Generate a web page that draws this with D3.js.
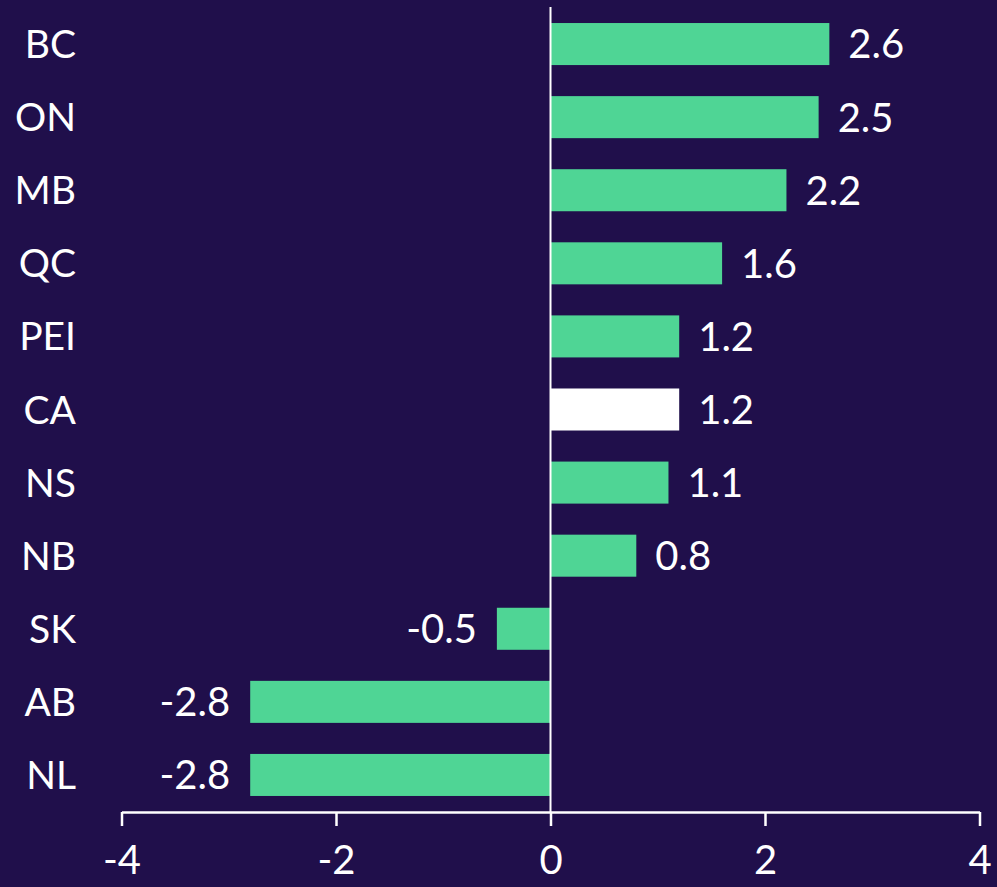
<!DOCTYPE html>
<html>
<head>
<meta charset="utf-8">
<script src="https://cdn.jsdelivr.net/npm/d3@7"></script>
<style>
  html, body { margin: 0; padding: 0; background: #200f4b; }
  svg { display: block; }
</style>
</head>
<body>
<script>
var provinces = ['BC', 'ON', 'MB', 'QC', 'PEI', 'CA', 'NS', 'NB', 'SK', 'AB', 'NL'];
var values = [2.6, 2.5, 2.2, 1.6, 1.2, 1.2, 1.1, 0.8, -0.5, -2.8, -2.8];
var tickValues = [-4, -2, 0, 2, 4];

var width = 997;
var height = 887;
var green = '#4fd595';
var font = 'Lato, "Open Sans", sans-serif';

var svg = d3.select('body')
    .append('svg')
    .attr('width', width)
    .attr('height', height);

svg.append('rect')
    .attr('width', width)
    .attr('height', height)
    .attr('fill', '#200f4b');

var x = d3.scaleLinear()
    .domain([-4, 4])
    .range([121.5, 979.5]);

var y = d3.scaleBand()
    .domain(provinces)
    .range([7.5, 811.5])
    .paddingInner(0.425)
    .paddingOuter(0.2125);

// bars
svg.selectAll('rect.bar')
    .data(provinces)
    .enter()
    .append('rect')
    .attr('class', 'bar')
    .attr('x', function (d, i) { return x(Math.min(0, values[i])); })
    .attr('y', function (d) { return y(d); })
    .attr('width', function (d, i) { return Math.abs(x(values[i]) - x(0)); })
    .attr('height', y.bandwidth())
    .attr('fill', function (d) { return d === 'CA' ? '#ffffff' : green; });

// value labels
svg.selectAll('text.val')
    .data(provinces)
    .enter()
    .append('text')
    .attr('class', 'val')
    .attr('x', function (d, i) { return values[i] >= 0 ? x(values[i]) + 19 : x(values[i]) - 20; })
    .attr('y', function (d) { return y(d) + y.bandwidth() / 2; })
    .attr('dy', '0.36em')
    .attr('text-anchor', function (d, i) { return values[i] >= 0 ? 'start' : 'end'; })
    .attr('fill', '#ffffff')
    .attr('font-family', font)
    .attr('font-size', 40)
    .text(function (d, i) { return values[i].toFixed(1); });

// category labels
svg.selectAll('text.cat')
    .data(provinces)
    .enter()
    .append('text')
    .attr('class', 'cat')
    .attr('x', 76)
    .attr('y', function (d) { return y(d) + y.bandwidth() / 2; })
    .attr('dy', '0.36em')
    .attr('text-anchor', 'end')
    .attr('fill', '#ffffff')
    .attr('font-family', font)
    .attr('font-size', 39)
    .text(function (d) { return d; });

// zero line
svg.append('line')
    .attr('x1', x(0))
    .attr('x2', x(0))
    .attr('y1', 7)
    .attr('y2', 812)
    .attr('stroke', '#ffffff')
    .attr('stroke-width', 2);

// bottom axis
var axis = svg.append('g')
    .attr('transform', 'translate(0,812)')
    .call(d3.axisBottom(x)
        .tickValues(tickValues)
        .tickFormat(function (d) { return String(d); })
        .tickSize(14)
        .tickPadding(20)
        .tickSizeOuter(0));

axis.select('.domain').attr('stroke', '#ffffff').attr('stroke-width', 2.5);
axis.selectAll('.tick line').attr('stroke', '#ffffff').attr('stroke-width', 2.5);
axis.selectAll('.tick text')
    .attr('fill', '#ffffff')
    .attr('font-family', font)
    .attr('font-size', 40);
</script>
</body>
</html>
